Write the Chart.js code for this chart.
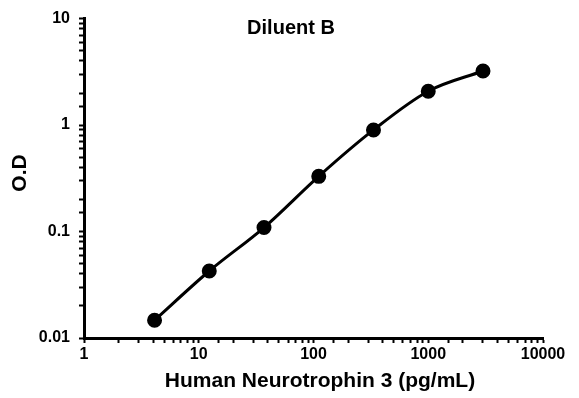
<!DOCTYPE html>
<html><head><meta charset="utf-8">
<script src="https://cdn.jsdelivr.net/npm/chart.js@4/dist/chart.umd.min.js"></script>
<style>html,body{margin:0;padding:0;background:#fff}#wrap{width:579px;height:398px}</style>
</head><body><div id="wrap"><canvas id="c" width="579" height="398"></canvas></div>
<script>
const concentrations = [4.12, 12.35, 37.04, 111.1, 333.3, 1000, 3000];
const odValues = [0.0147, 0.0426, 0.109, 0.33, 0.90, 2.08, 3.22];
const xTickLabels = [1, 10, 100, 1000, 10000];
const yTickLabels = [0.01, 0.1, 1, 10];
const chartTitle = 'Diluent B';
const xTitle = 'Human Neurotrophin 3 (pg/mL)';
const yTitle = 'O.D';
const FONT = "'Liberation Sans', Arial, sans-serif";

function isLabel(v, arr){ return arr.some(a => Math.abs(a - v) / a < 1e-6); }

const textPlugin = {
  id: 'overlayText',
  afterDraw(chart){
    const ctx = chart.ctx;
    ctx.save();
    ctx.fillStyle = '#000';
    ctx.textAlign = 'center';
    ctx.textBaseline = 'middle';
    ctx.font = "bold 20px " + FONT;
    ctx.fillText(chartTitle, 291, 28);
    ctx.font = "bold 21px " + FONT;
    ctx.fillText(xTitle, 320, 381);
    ctx.translate(20, 173);
    ctx.rotate(-Math.PI / 2);
    ctx.fillText(yTitle, 0, 0);
    ctx.restore();
  }
};

new Chart(document.getElementById('c'), {
  type: 'line',
  data: {
    datasets: [{
      data: concentrations.map((x, i) => ({x, y: odValues[i]})),
      borderColor: '#000',
      backgroundColor: '#000',
      borderWidth: 3,
      pointRadius: 6,
      pointHoverRadius: 6,
      tension: 0.4,
      cubicInterpolationMode: 'monotone',
      fill: false
    }]
  },
  options: {
    responsive: false,
    animation: false,
    events: [],
    layout: {padding: {left: 0, right: 36, top: 18, bottom: 0}},
    plugins: {legend: {display: false}, tooltip: {enabled: false}, title: {display: false}},
    scales: {
      x: {
        type: 'logarithmic', min: 1, max: 10000,
        border: {display: true, color: '#000', width: 3},
        grid: {display: true, drawOnChartArea: false, drawTicks: true, tickLength: 5,
               tickColor: '#000', tickWidth: 2},
        ticks: {autoSkip: false, maxRotation: 0, padding: 2, color: '#000',
                font: {family: FONT, weight: 'bold', size: 16},
                callback: (v) => isLabel(v, xTickLabels) ? String(v) : ''},
        title: {display: false},
        afterFit: s => { s.height = 60; }
      },
      y: {
        type: 'logarithmic', min: 0.01, max: 10,
        border: {display: true, color: '#000', width: 3},
        grid: {display: true, drawOnChartArea: false, drawTicks: true, tickLength: 5,
               tickColor: '#000', tickWidth: 2},
        ticks: {autoSkip: false, padding: 9, color: '#000',
                font: {family: FONT, weight: 'bold', size: 16},
                callback: (v) => isLabel(v, yTickLabels) ? String(v) : ''},
        title: {display: false},
        afterFit: s => { s.width = 84; }
      }
    }
  },
  plugins: [textPlugin]
});
</script></body></html>
